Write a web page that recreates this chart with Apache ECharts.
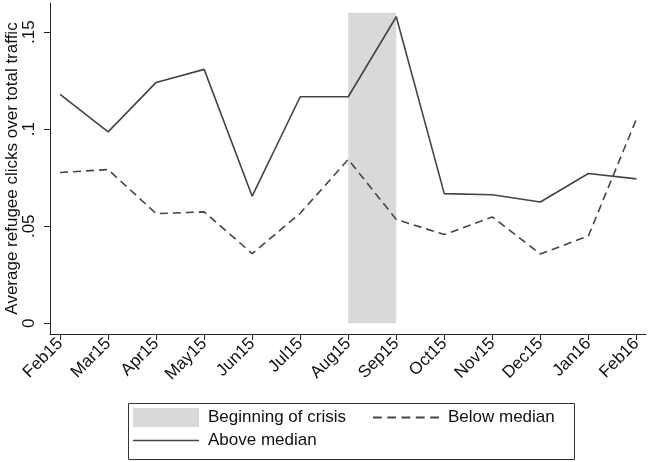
<!DOCTYPE html>
<html><head><meta charset="utf-8">
<script src="https://cdn.jsdelivr.net/npm/echarts@6/dist/echarts.min.js"></script>
<style>html,body{margin:0;padding:0;background:#fff}#c{width:650px;height:462px}</style>
</head><body><div id="c"></div>
<script>
const months = ['Feb15','Mar15','Apr15','May15','Jun15','Jul15','Aug15','Sep15','Oct15','Nov15','Dec15','Jan16','Feb16'];
const aboveMedian = [0.1179, 0.0986, 0.1241, 0.1308, 0.0655, 0.1167, 0.1167, 0.1579, 0.0668, 0.0662, 0.0625, 0.0772, 0.0744];
const belowMedian = [0.0777, 0.0792, 0.0565, 0.0574, 0.0359, 0.0567, 0.0844, 0.0535, 0.0457, 0.0548, 0.0357, 0.0450, 0.1052];
const yTicks = [0, 0.05, 0.1, 0.15];
const yTickLabels = ['0', '.05', '.1', '.15'];
const crisisFrom = 'Aug15', crisisTo = 'Sep15', crisisTop = 0.16;

const idx = months.map((m, i) => i);
const toPts = arr => arr.map((v, i) => [i, v]);
const txt = '#111';
const lineCol = '#444';
const FONT = 'Liberation Sans, Arial, sans-serif';
const solidIcon = 'path://M0,0H66V1.6H0Z';
const dashIcon = 'path://M0,0H8V1.6H0Z M13,0H21V1.6H13Z M26,0H34V1.6H26Z M39,0H47V1.6H39Z M52,0H60V1.6H52Z';

const chart = echarts.init(document.getElementById('c'), null, {renderer: 'canvas'});
chart.setOption({
  animation: false,
  backgroundColor: '#fff',
  textStyle: {fontFamily: FONT, color: txt},
  grid: {left: 50, right: 4, top: 3, bottom: 128, containLabel: false, outerBoundsMode: 'none'},
  xAxis: {
    type: 'value', min: -0.21, max: 12.2,
    axisLine: {show: true, onZero: false, lineStyle: {color: '#222', width: 1}},
    axisTick: {show: true, customValues: idx, length: 6, lineStyle: {color: '#222'}},
    axisLabel: {customValues: idx, formatter: v => months[Math.round(v)], rotate: 45, margin: 7,
      fontSize: 17, color: txt, fontFamily: FONT},
    splitLine: {show: false}
  },
  yAxis: {
    type: 'value', min: -0.0055, max: 0.165,
    name: 'Average refugee clicks over total traffic', nameLocation: 'middle', nameRotate: 90, nameGap: 29,
    nameMoveOverlap: false,
    nameTextStyle: {fontSize: 17, color: txt, fontFamily: FONT},
    axisLine: {show: true, onZero: false, lineStyle: {color: '#222', width: 1}},
    axisTick: {show: true, customValues: yTicks, length: 6, lineStyle: {color: '#222'}},
    axisLabel: {customValues: yTicks, formatter: v => yTickLabels[yTicks.findIndex(t => Math.abs(t - v) < 1e-9)],
      rotate: 90, margin: 12, fontSize: 17, color: txt, fontFamily: FONT},
    splitLine: {show: false}
  },
  legend: [
    {data: [{name: 'Beginning of crisis', icon: 'rect'}, {name: 'Below median', icon: dashIcon}], left: 133, top: 408,
     itemWidth: 66, itemHeight: 19, itemGap: 27, padding: 0,
     textStyle: {fontSize: 17, color: txt, fontFamily: FONT, padding: [0, 0, 0, 4]}},
    {data: [{name: 'Above median', icon: solidIcon}], left: 133, top: 432,
     itemWidth: 66, itemHeight: 19, itemGap: 27, padding: 0,
     textStyle: {fontSize: 17, color: txt, fontFamily: FONT, padding: [0, 0, 0, 4]}}
  ],
  graphic: [{type: 'rect', left: 126, top: 401, shape: {width: 446, height: 56},
    style: {fill: 'none', stroke: '#333', lineWidth: 1}, silent: true}],
  series: [
    {name: 'Beginning of crisis', type: 'line', data: [], z: 1, color: '#d9d9d9',
     itemStyle: {color: '#d9d9d9'},
     markArea: {silent: true, itemStyle: {color: '#d9d9d9', opacity: 1},
       data: [[{xAxis: months.indexOf(crisisFrom), yAxis: 0}, {xAxis: months.indexOf(crisisTo), yAxis: crisisTop}]]}},
    {name: 'Above median', type: 'line', data: toPts(aboveMedian), symbol: 'none', z: 3, color: lineCol,
     itemStyle: {color: lineCol}, lineStyle: {color: lineCol, width: 1.6}},
    {name: 'Below median', type: 'line', data: toPts(belowMedian), symbol: 'none', z: 3, color: lineCol,
     itemStyle: {color: lineCol}, lineStyle: {color: lineCol, width: 1.6, type: [8, 5]}}
  ]
});
</script></body></html>
